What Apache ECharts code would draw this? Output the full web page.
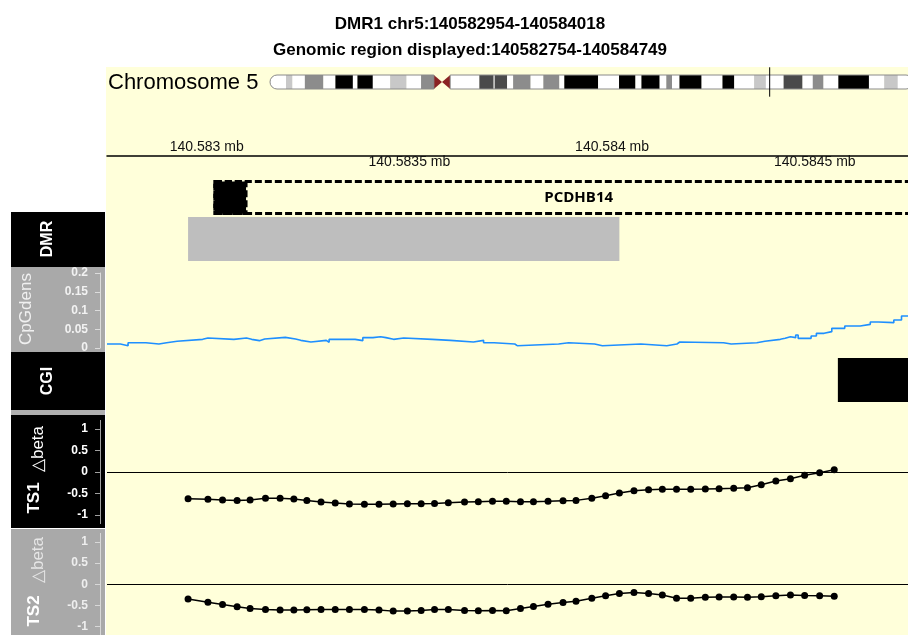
<!DOCTYPE html>
<html>
<head>
<meta charset="utf-8">
<script src="https://cdn.jsdelivr.net/npm/echarts@6/dist/echarts.min.js"></script>
<style>
  html, body { margin: 0; padding: 0; background: #fff; }
  #main { width: 908px; height: 635px; }
</style>
</head>
<body>
<div id="main"></div>
<script>
// region shown (the figure is cropped on the right, so the view ends a bit early)
var regionStart = 140582754;
var regionEnd = 140584749;
var viewEnd = 140584730;
var dmrStart = 140582954;
var dmrEnd = 140584018;

// chr5 ideogram (Mb)
var chrLength = 180.915;
var chrViewEnd = 179.5;
var markerPos = 140.5835;
var bandStarts = [0, 4.5, 6.3, 9.8, 15.0, 18.4, 23.3, 24.6, 28.9, 33.8, 38.4, 42.5, 46.1, 48.4, 50.7,
  58.9, 62.9, 63.2, 66.7, 68.4, 73.3, 76.9, 81.4, 82.8, 92.3, 98.2, 102.8, 104.5, 109.6, 111.5,
  113.1, 115.2, 121.4, 127.3, 130.6, 136.2, 139.5, 144.5, 149.8, 152.7, 155.7, 159.9, 168.5, 172.8, 176.6];
var bandStains = ['gneg', 'gpos25', 'gneg', 'gpos50', 'gneg', 'gpos100', 'gneg', 'gpos100', 'gneg', 'gpos25',
  'gneg', 'gpos50', 'acen', 'acen', 'gneg', 'gpos75', 'gneg', 'gpos75', 'gneg', 'gpos50', 'gneg', 'gpos50',
  'gneg', 'gpos100', 'gneg', 'gpos100', 'gneg', 'gpos100', 'gneg', 'gpos50', 'gneg', 'gpos100', 'gneg',
  'gpos100', 'gneg', 'gpos25', 'gneg', 'gpos75', 'gneg', 'gpos50', 'gneg', 'gpos100', 'gneg', 'gpos25', 'gneg'];
var armRanges = [[0, 46.1], [50.7, 180.915]];

// axis ticks
var axisTicksTop = [140583000, 140584000];
var axisTicksBottom = [140583500, 140584500];

// gene model
var geneName = 'PCDHB14';
var geneStart = 140583020;
var geneEnd = 140584815;
var exonEnd = 140583097;

// CpG island
var cgiStart = 140584557;
var cgiEnd = 140585100;

// CpG density (step values starting at each position)
var cpgPos = [140582754, 140582787, 140582806, 140582850, 140582882, 140582901, 140582927, 140582990, 140583003, 140583067,
  140583098, 140583111, 140583130, 140583143, 140583194, 140583219, 140583232, 140583257, 140583295, 140583302,
  140583366, 140583385, 140583410, 140583429, 140583442, 140583461, 140583486, 140583556, 140583601, 140583658,
  140583683, 140583709, 140583760, 140583766, 140583868, 140583893, 140583957, 140583976, 140584071, 140584135,
  140584160, 140584167, 140584275, 140584294, 140584357, 140584377, 140584415, 140584427, 140584440, 140584453,
  140584459, 140584491, 140584504, 140584523, 140584542, 140584574, 140584612, 140584637, 140584657, 140584695,
  140584714, 140584749];
var cpgDens = [0.0107, 0.0062, 0.0142, 0.0107, 0.0142, 0.0178, 0.0231, 0.0267, 0.0231, 0.0267,
  0.0231, 0.0196, 0.0240, 0.0284, 0.0240, 0.0204, 0.0160, 0.0204, 0.0151, 0.0231,
  0.0196, 0.0276, 0.0302, 0.0276, 0.0231, 0.0267, 0.0231, 0.0204, 0.0160, 0.0204,
  0.0142, 0.0107, 0.0062, 0.0107, 0.0142, 0.0107, 0.0062, 0.0107, 0.0062, 0.0107,
  0.0160, 0.0142, 0.0107, 0.0142, 0.0178, 0.0231, 0.0258, 0.0302, 0.0276, 0.0347,
  0.0258, 0.0320, 0.0391, 0.0436, 0.0524, 0.0587, 0.0631, 0.0693, 0.0676, 0.0747,
  0.0853, 0.0853];

// CpG sites and delta beta
var sitePos = [140582954, 140583003, 140583039, 140583075, 140583107, 140583145, 140583181, 140583215, 140583247, 140583282,
  140583317, 140583352, 140583389, 140583425, 140583460, 140583495, 140583529, 140583562, 140583596, 140583636,
  140583670, 140583705, 140583739, 140583774, 140583806, 140583842, 140583879, 140583911, 140583950, 140583984,
  140584018, 140584054, 140584090, 140584124, 140584159, 140584194, 140584230, 140584264, 140584300, 140584334,
  140584368, 140584404, 140584440, 140584475, 140584512, 140584548];
var ts1Beta = [-0.62, -0.636, -0.65, -0.66, -0.65, -0.612, -0.612, -0.628, -0.66, -0.698,
  -0.72, -0.744, -0.752, -0.752, -0.744, -0.736, -0.736, -0.73, -0.713, -0.698,
  -0.69, -0.682, -0.682, -0.69, -0.69, -0.682, -0.667, -0.66, -0.612, -0.55,
  -0.488, -0.434, -0.41, -0.40, -0.40, -0.40, -0.395, -0.387, -0.38, -0.364,
  -0.295, -0.21, -0.155, -0.078, -0.016, 0.054];
var ts2Beta = [-0.349, -0.426, -0.48, -0.535, -0.574, -0.597, -0.612, -0.612, -0.605, -0.597,
  -0.597, -0.597, -0.597, -0.612, -0.636, -0.636, -0.62, -0.597, -0.597, -0.62,
  -0.628, -0.62, -0.628, -0.574, -0.527, -0.473, -0.434, -0.403, -0.333, -0.271,
  -0.217, -0.194, -0.217, -0.256, -0.333, -0.333, -0.31, -0.302, -0.302, -0.31,
  -0.295, -0.271, -0.256, -0.264, -0.271, -0.287];
var betaTicks = [-1, -0.5, 0, 0.5, 1];

var stainColor = { gneg: '#FFFFFF', gpos25: '#C8C8C8', gpos50: '#8C8C8C', gpos75: '#4A4A4A', gpos100: '#000000', acen: '#8B2323' };
var FONT = 'Liberation Sans, Arial, Helvetica, sans-serif';

function zip(a, b) {
  return a.map(function (v, i) { return [v, b[i]]; });
}

var chart = echarts.init(document.getElementById('main'));

var gLeft = 107;
var genomeGrids = [
  { top: 155, height: 1 },      // axis
  { top: 181.5, height: 32 },   // gene
  { top: 217, height: 44 },     // DMR
  { top: 273, height: 75 },     // CpGdens
  { top: 358, height: 44 },     // CGI
  { top: 420.4, height: 103.2 },// TS1
  { top: 533.4, height: 103.2 } // TS2
];
var grids = [{ left: 270, right: 0, top: 75, height: 14 }].concat(genomeGrids.map(function (g) {
  return { left: gLeft, right: 0, top: g.top, height: g.height };
}));

function hiddenX(gi) {
  return { type: 'value', gridIndex: gi, min: regionStart, max: viewEnd, show: false };
}
function mbLabel(v) { return (v / 1e6) + ' mb'; }

function betaAxis(gi, labelColor, lineColor) {
  return {
    type: 'value', gridIndex: gi, min: -1.2, max: 1.2, offset: 7, position: 'left',
    axisLine: { show: true, lineStyle: { color: lineColor, width: 1 } },
    axisTick: { show: true, length: 5, customValues: betaTicks, lineStyle: { color: lineColor } },
    axisLabel: { customValues: betaTicks, color: labelColor, fontSize: 12, fontWeight: 'bold', fontFamily: FONT, margin: 12 },
    splitLine: { show: false }
  };
}

var option = {
  animation: false,
  title: {
    text: 'DMR1 chr5:140582954-140584018\nGenomic region displayed:140582754-140584749',
    left: 465, top: 6, textAlign: 'center',
    textStyle: { fontFamily: FONT, fontSize: 17, fontWeight: 'bold', color: '#000', lineHeight: 26 }
  },
  grid: grids,
  xAxis: [
    { type: 'value', gridIndex: 0, min: 0, max: chrViewEnd, show: false },
    {
      type: 'value', gridIndex: 1, position: 'top', min: regionStart, max: viewEnd,
      axisLine: { show: true, lineStyle: { color: '#000', width: 1.5 } },
      axisTick: { show: false },
      splitLine: { show: false },
      axisLabel: { customValues: axisTicksTop, formatter: mbLabel, color: '#111', fontSize: 14, fontFamily: FONT, margin: 1 }
    },
    {
      type: 'value', gridIndex: 1, position: 'bottom', min: regionStart, max: viewEnd,
      axisLine: { show: false }, axisTick: { show: false }, splitLine: { show: false },
      axisLabel: { customValues: axisTicksBottom, formatter: mbLabel, color: '#111', fontSize: 14, fontFamily: FONT, margin: -1 }
    },
    hiddenX(2), hiddenX(3), hiddenX(4), hiddenX(5), hiddenX(6), hiddenX(7)
  ],
  yAxis: [
    { type: 'value', gridIndex: 0, min: 0, max: 1, show: false },
    { type: 'value', gridIndex: 1, min: 0, max: 1, show: false },
    { type: 'value', gridIndex: 2, min: 0, max: 1, show: false },
    { type: 'value', gridIndex: 3, min: 0, max: 1, show: false },
    {
      type: 'value', gridIndex: 4, min: 0, max: 0.2, interval: 0.05, offset: 7,
      axisLine: { show: true, lineStyle: { color: '#DCDCDC', width: 1 } },
      axisTick: { show: true, length: 5, lineStyle: { color: '#DCDCDC' } },
      axisLabel: { color: '#F2F2F2', fontSize: 12, fontWeight: 'bold', fontFamily: FONT, margin: 12 },
      splitLine: { show: false }
    },
    { type: 'value', gridIndex: 5, min: 0, max: 1, show: false },
    betaAxis(6, '#FFFFFF', '#A0A0A0'),
    betaAxis(7, '#EEEEEE', '#D8D8D8')
  ],
  graphic: [
    { type: 'rect', z: -10, silent: true, shape: { x: 106, y: 67, width: 802, height: 568 }, style: { fill: '#FFFFDA' } },
    { type: 'rect', z: -5, shape: { x: 11, y: 212, width: 94, height: 55 }, style: { fill: '#000' } },
    { type: 'rect', z: -5, shape: { x: 11, y: 267, width: 94, height: 85 }, style: { fill: '#A9A9A9' } },
    { type: 'rect', z: -5, shape: { x: 11, y: 352, width: 94, height: 58 }, style: { fill: '#000' } },
    { type: 'rect', z: -5, shape: { x: 11, y: 410, width: 94, height: 5 }, style: { fill: '#B0B0B0' } },
    { type: 'rect', z: -5, shape: { x: 11, y: 415, width: 94, height: 113 }, style: { fill: '#000' } },
    { type: 'rect', z: -5, shape: { x: 11, y: 529, width: 94, height: 106 }, style: { fill: '#A9A9A9' } },
    { type: 'text', x: 108, y: 83, style: { text: 'Chromosome 5', fill: '#000', font: '22px ' + FONT, align: 'left', verticalAlign: 'middle' } },
    { type: 'text', x: 48, y: 239, rotation: Math.PI / 2, style: { text: 'DMR', fill: '#fff', font: 'bold 16px ' + FONT, align: 'center', verticalAlign: 'middle' } },
    { type: 'text', x: 26, y: 309, rotation: Math.PI / 2, style: { text: 'CpGdens', fill: '#F0F0F0', font: '17px ' + FONT, align: 'center', verticalAlign: 'middle' } },
    { type: 'text', x: 48, y: 381, rotation: Math.PI / 2, style: { text: 'CGI', fill: '#fff', font: 'bold 16px ' + FONT, align: 'center', verticalAlign: 'middle' } },
    { type: 'text', x: 34, y: 498, rotation: Math.PI / 2, style: { text: 'TS1', fill: '#fff', font: 'bold 17px ' + FONT, align: 'center', verticalAlign: 'middle' } },
    { type: 'text', x: 38, y: 449, rotation: Math.PI / 2, style: { text: '\u25B3beta', fill: '#fff', font: '17px ' + FONT, align: 'center', verticalAlign: 'middle' } },
    { type: 'text', x: 34, y: 611, rotation: Math.PI / 2, style: { text: 'TS2', fill: '#fff', font: 'bold 17px ' + FONT, align: 'center', verticalAlign: 'middle' } },
    { type: 'text', x: 38, y: 560, rotation: Math.PI / 2, style: { text: '\u25B3beta', fill: '#E6E6E6', font: '17px ' + FONT, align: 'center', verticalAlign: 'middle' } }
  ],
  series: [
    {
      type: 'custom', xAxisIndex: 0, yAxisIndex: 0, silent: true,
      data: bandStarts.map(function (s, i) { return [s, i + 1 < bandStarts.length ? bandStarts[i + 1] : chrLength]; }),
      renderItem: function (params, api) {
        var i = params.dataIndex;
        var st = bandStains[i];
        var a = api.coord([api.value(0), 1]);
        var b = api.coord([api.value(1), 0]);
        var h = b[1] - a[1];
        if (st === 'acen') {
          var pts = bandStains[i + 1] === 'acen'
            ? [[a[0], a[1]], [b[0], a[1] + h / 2], [a[0], b[1]]]
            : [[b[0], a[1]], [a[0], a[1] + h / 2], [b[0], b[1]]];
          return { type: 'polygon', shape: { points: pts }, style: { fill: stainColor.acen } };
        }
        var r = 0;
        if (i === 0) r = [7, 0, 0, 7];
        if (i === bandStarts.length - 1) r = [0, 7, 7, 0];
        return { type: 'rect', shape: { x: a[0], y: a[1], width: b[0] - a[0] + 0.3, height: h, r: r }, style: { fill: stainColor[st] } };
      }
    },
    {
      type: 'custom', xAxisIndex: 0, yAxisIndex: 0, silent: true,
      data: armRanges,
      renderItem: function (params, api) {
        var a = api.coord([api.value(0), 1]);
        var b = api.coord([api.value(1), 0]);
        var r = params.dataIndex === 0 ? [7, 0, 0, 7] : [0, 7, 7, 0];
        return { type: 'rect', shape: { x: a[0], y: a[1], width: b[0] - a[0], height: b[1] - a[1], r: r }, style: { fill: 'none', stroke: '#8A8A8A', lineWidth: 1 } };
      }
    },
    {
      type: 'custom', xAxisIndex: 0, yAxisIndex: 0, silent: true,
      data: [[markerPos]],
      renderItem: function (params, api) {
        var a = api.coord([api.value(0), 1.55]);
        var b = api.coord([api.value(0), -0.55]);
        return { type: 'line', shape: { x1: a[0], y1: a[1], x2: b[0], y2: b[1] }, style: { stroke: '#000', lineWidth: 1 } };
      }
    },
    {
      type: 'custom', xAxisIndex: 3, yAxisIndex: 2, silent: true,
      data: [[geneStart, geneEnd, exonEnd]],
      renderItem: function (params, api) {
        var a = api.coord([api.value(0), 1]);
        var b = api.coord([api.value(1), 0]);
        var e = api.coord([api.value(2), 0]);
        var mid = api.coord([(api.value(0) + api.value(1)) / 2, 0.5]);
        return {
          type: 'group', children: [
            { type: 'rect', shape: { x: a[0], y: a[1], width: b[0] - a[0], height: b[1] - a[1] }, style: { fill: 'none', stroke: '#000', lineWidth: 3, lineDash: [7, 3] } },
            { type: 'rect', shape: { x: a[0], y: a[1], width: e[0] - a[0], height: b[1] - a[1] }, style: { fill: '#000', stroke: '#000', lineWidth: 3, lineDash: [7, 3] } },
            { type: 'text', x: mid[0], y: mid[1], style: { text: geneName, fill: '#000', font: 'bold 15px Open Sans, DejaVu Sans, sans-serif', align: 'center', verticalAlign: 'middle' } }
          ]
        };
      }
    },
    {
      type: 'custom', xAxisIndex: 4, yAxisIndex: 3, silent: true,
      data: [[dmrStart, dmrEnd]],
      renderItem: function (params, api) {
        var a = api.coord([api.value(0), 1]);
        var b = api.coord([api.value(1), 0]);
        return { type: 'rect', shape: { x: a[0], y: a[1], width: b[0] - a[0], height: b[1] - a[1] }, style: { fill: '#BEBEBE' } };
      }
    },
    {
      type: 'line', xAxisIndex: 5, yAxisIndex: 4, step: 'end', showSymbol: false, silent: true,
      data: zip(cpgPos, cpgDens),
      lineStyle: { color: '#1E8FFF', width: 1.6 }
    },
    {
      type: 'custom', xAxisIndex: 6, yAxisIndex: 5, silent: true,
      data: [[cgiStart, cgiEnd]],
      renderItem: function (params, api) {
        var a = api.coord([api.value(0), 1]);
        var b = api.coord([api.value(1), 0]);
        return { type: 'rect', shape: { x: a[0], y: a[1], width: b[0] - a[0], height: b[1] - a[1] }, style: { fill: '#000' } };
      }
    },
    {
      type: 'line', xAxisIndex: 7, yAxisIndex: 6, silent: true,
      data: zip(sitePos, ts1Beta),
      symbol: 'circle', symbolSize: 7,
      itemStyle: { color: '#000' }, lineStyle: { color: '#000', width: 1.5 },
      markLine: { silent: true, symbol: 'none', label: { show: false }, lineStyle: { color: '#000', width: 1, type: 'solid' }, data: [{ yAxis: 0 }] }
    },
    {
      type: 'line', xAxisIndex: 8, yAxisIndex: 7, silent: true,
      data: zip(sitePos, ts2Beta),
      symbol: 'circle', symbolSize: 7,
      itemStyle: { color: '#000' }, lineStyle: { color: '#000', width: 1.5 },
      markLine: { silent: true, symbol: 'none', label: { show: false }, lineStyle: { color: '#000', width: 1, type: 'solid' }, data: [{ yAxis: 0 }] }
    }
  ]
};

chart.setOption(option);
</script>
</body>
</html>
